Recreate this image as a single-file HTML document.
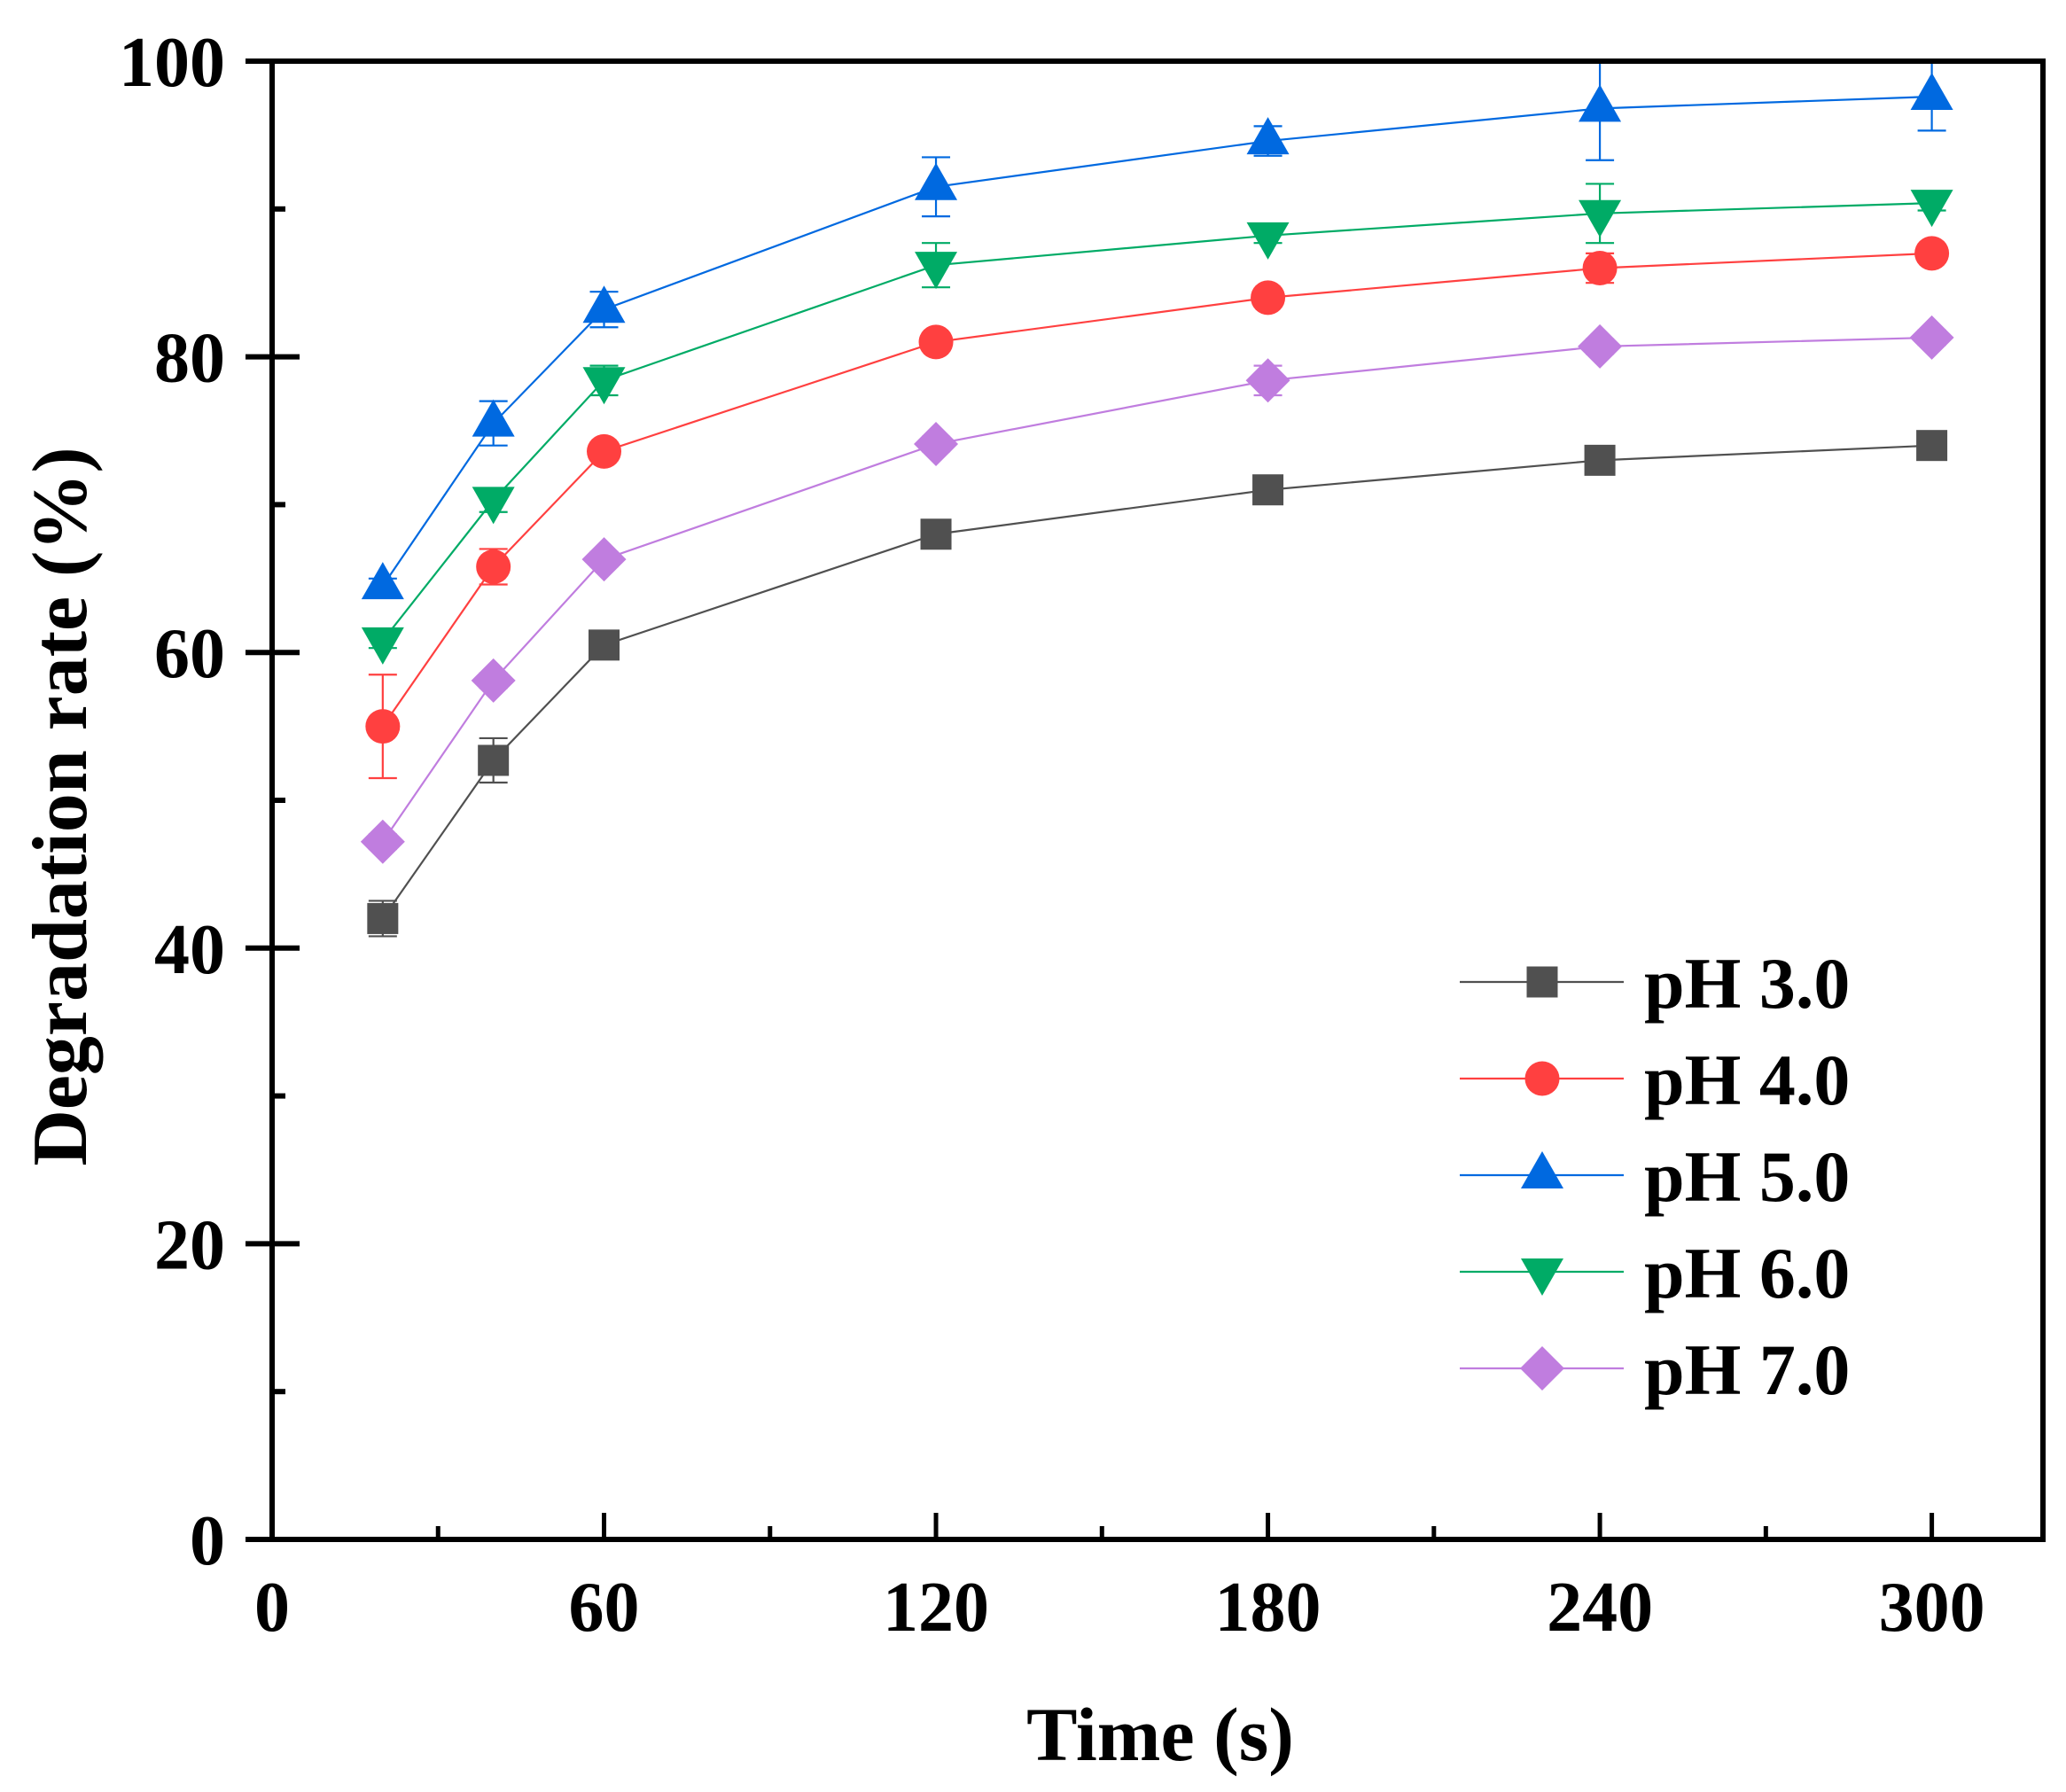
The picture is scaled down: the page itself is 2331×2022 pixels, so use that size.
<!DOCTYPE html>
<html><head><meta charset="utf-8"><style>html,body{margin:0;padding:0;background:#fff}svg{display:block}text{font-family:"Liberation Serif","Times New Roman",serif;font-weight:bold}</style></head>
<body>
<svg xmlns="http://www.w3.org/2000/svg" width="2331" height="2022" viewBox="0 0 2331 2022">
<g id="plot"></g>
<script>
(function(){
var NS="http://www.w3.org/2000/svg",g=document.getElementById("plot");
function X(t){return 307+t*6.242;}function Y(v){return 1737-v*16.68;}
function el(n,a,txt){var e=document.createElementNS(NS,n);for(var k in a)e.setAttribute(k,a[k]);if(txt!==undefined)e.textContent=txt;g.appendChild(e);return e;}
var ts=[20,40,60,120,180,240,300];
var S=[
{c:"#505050",m:"sq",d:[42,52.7,60.5,68,71,73,74],e:[1.2,1.5,0.5,0.6,0.5,0.5,0.5]},
{c:"#ff4040",m:"ci",d:[55,65.8,73.6,81,84,86,87],e:[3.5,1.2,0.6,0.6,0.6,1,0.6]},
{c:"#0069e0",m:"tu",d:[64.5,75.5,83.2,91.5,94.6,96.8,97.6],e:[0.5,1.5,1.2,2,1,3.5,2.3]},
{c:"#00ab66",m:"td",d:[60.8,70.3,78.4,86.2,88.2,89.7,90.4],e:[0.5,0.8,1,1.5,0.5,2,0.5]},
{c:"#c07ddf",m:"di",d:[47.2,58.1,66.3,74.1,78.4,80.7,81.3],e:[0.5,0.5,0.5,0.5,1,0.5,0.5]}];
function marker(m,x,y,c){
 if(m=="sq")el("rect",{x:x-17.5,y:y-17.5,width:35,height:35,fill:c});
 else if(m=="ci")el("circle",{cx:x,cy:y,r:19.5,fill:c});
 else if(m=="tu")el("polygon",{points:(x-24)+","+(y+15)+" "+(x+24)+","+(y+15)+" "+x+","+(y-27),fill:c});
 else if(m=="td")el("polygon",{points:(x-24)+","+(y-15)+" "+(x+24)+","+(y-15)+" "+x+","+(y+27),fill:c});
 else el("polygon",{points:x+","+(y-25)+" "+(x+25)+","+y+" "+x+","+(y+25)+" "+(x-25)+","+y,fill:c});
}
S.forEach(function(s){
 var p=ts.map(function(t,i){return X(t)+","+Y(s.d[i]);}).join(" ");
 el("polyline",{points:p,fill:"none",stroke:s.c,"stroke-width":2.2});
 ts.forEach(function(t,i){var x=X(t),t1=Math.max(Y(s.d[i]+s.e[i]),Y(100)),b=Y(s.d[i]-s.e[i]);
  el("path",{d:"M"+x+" "+t1+"V"+b+"M"+(x-16)+" "+t1+"H"+(x+16)+"M"+(x-16)+" "+b+"H"+(x+16),stroke:s.c,"stroke-width":2.2,fill:"none"});
  marker(s.m,x,Y(s.d[i]),s.c);});
});
el("rect",{x:307,y:69,width:1998,height:1668,fill:"none",stroke:"#000","stroke-width":6});
for(var v=0;v<=100;v+=10){var y=Y(v);
 if(v%20==0){el("path",{d:"M277 "+y+"H338",stroke:"#000","stroke-width":6});
  el("text",{x:254,y:y+28,"text-anchor":"end","font-size":80},String(v));}
 else el("path",{d:"M307 "+y+"H322",stroke:"#000","stroke-width":6});}
for(var t=0;t<=300;t+=30){var x=X(t);
 if(t%60==0){el("path",{d:"M"+x+" 1737V1707",stroke:"#000","stroke-width":5});
  el("text",{x:x,y:1840,"text-anchor":"middle","font-size":80},String(t));}
 else el("path",{d:"M"+x+" 1737V1722",stroke:"#000","stroke-width":5});}
el("text",{x:1309,y:1986,"text-anchor":"middle","font-size":86},"Time (s)");
el("text",{x:0,y:0,"text-anchor":"middle","font-size":88,transform:"translate(97 910) rotate(-90)"},"Degradation rate (%)");
var names=["pH 3.0","pH 4.0","pH 5.0","pH 6.0","pH 7.0"];
S.forEach(function(s,i){var y=1108+i*109;
 el("path",{d:"M1647 "+y+"H1832",stroke:s.c,"stroke-width":2.2});
 marker(s.m,1740,y,s.c);
 el("text",{x:1855,y:y+29,"font-size":82},names[i]);});
})();
</script>
</svg>
</body></html>
